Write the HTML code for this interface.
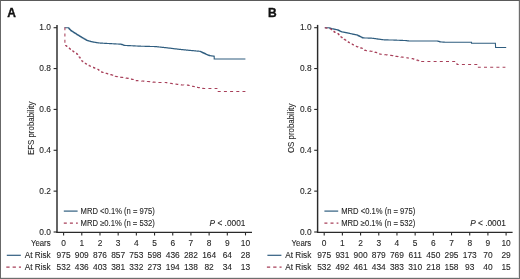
<!DOCTYPE html>
<html><head><meta charset="utf-8">
<style>
html,body{margin:0;padding:0;background:#fff;}
body{width:520px;height:279px;overflow:hidden;position:relative;}
.frame{position:absolute;left:0;top:0;width:520px;height:279px;box-sizing:border-box;border:1px solid #6e6e6e;border-top-color:#5a5a5a;border-left-color:#686868;}
svg{position:absolute;left:0;top:0;will-change:transform;filter:blur(0.3px);}
.t{font-family:"Liberation Sans",sans-serif;font-size:8.4px;fill:#262626;stroke:#262626;stroke-width:0.1;}
.lt{font-family:"Liberation Sans",sans-serif;font-size:12px;font-weight:bold;fill:#111;stroke:#111;stroke-width:0.35;}
.ax{stroke:#2a2a2a;stroke-width:1.25;}
.tk{stroke:#2a2a2a;stroke-width:1.1;}
</style></head><body>
<svg width="520" height="279" viewBox="0 0 520 279">
<text x="7.30" y="17.20" class="lt">A</text>
<line x1="57.00" y1="24.90" x2="57.00" y2="232.70" class="ax" style="stroke-width:1.45"/>
<line x1="56.40" y1="232.30" x2="252.00" y2="232.30" class="ax"/>
<line x1="53.60" y1="232.00" x2="57.00" y2="232.00" class="tk"/>
<text x="51.00" y="234.60" class="t" text-anchor="end">0.0</text>
<line x1="53.60" y1="191.14" x2="57.00" y2="191.14" class="tk"/>
<text x="51.00" y="193.74" class="t" text-anchor="end">0.2</text>
<line x1="53.60" y1="150.28" x2="57.00" y2="150.28" class="tk"/>
<text x="51.00" y="152.88" class="t" text-anchor="end">0.4</text>
<line x1="53.60" y1="109.42" x2="57.00" y2="109.42" class="tk"/>
<text x="51.00" y="112.02" class="t" text-anchor="end">0.6</text>
<line x1="53.60" y1="68.56" x2="57.00" y2="68.56" class="tk"/>
<text x="51.00" y="71.16" class="t" text-anchor="end">0.8</text>
<line x1="53.60" y1="27.70" x2="57.00" y2="27.70" class="tk"/>
<text x="51.00" y="30.30" class="t" text-anchor="end">1.0</text>
<line x1="63.60" y1="232.00" x2="63.60" y2="235.40" class="tk"/>
<text x="63.60" y="245.70" class="t" text-anchor="middle">0</text>
<text x="63.60" y="257.60" class="t" text-anchor="middle">975</text>
<text x="63.60" y="269.50" class="t" text-anchor="middle">532</text>
<line x1="81.79" y1="232.00" x2="81.79" y2="235.40" class="tk"/>
<text x="81.79" y="245.70" class="t" text-anchor="middle">1</text>
<text x="81.79" y="257.60" class="t" text-anchor="middle">909</text>
<text x="81.79" y="269.50" class="t" text-anchor="middle">436</text>
<line x1="99.98" y1="232.00" x2="99.98" y2="235.40" class="tk"/>
<text x="99.98" y="245.70" class="t" text-anchor="middle">2</text>
<text x="99.98" y="257.60" class="t" text-anchor="middle">876</text>
<text x="99.98" y="269.50" class="t" text-anchor="middle">403</text>
<line x1="118.17" y1="232.00" x2="118.17" y2="235.40" class="tk"/>
<text x="118.17" y="245.70" class="t" text-anchor="middle">3</text>
<text x="118.17" y="257.60" class="t" text-anchor="middle">857</text>
<text x="118.17" y="269.50" class="t" text-anchor="middle">381</text>
<line x1="136.36" y1="232.00" x2="136.36" y2="235.40" class="tk"/>
<text x="136.36" y="245.70" class="t" text-anchor="middle">4</text>
<text x="136.36" y="257.60" class="t" text-anchor="middle">753</text>
<text x="136.36" y="269.50" class="t" text-anchor="middle">332</text>
<line x1="154.55" y1="232.00" x2="154.55" y2="235.40" class="tk"/>
<text x="154.55" y="245.70" class="t" text-anchor="middle">5</text>
<text x="154.55" y="257.60" class="t" text-anchor="middle">598</text>
<text x="154.55" y="269.50" class="t" text-anchor="middle">273</text>
<line x1="172.74" y1="232.00" x2="172.74" y2="235.40" class="tk"/>
<text x="172.74" y="245.70" class="t" text-anchor="middle">6</text>
<text x="172.74" y="257.60" class="t" text-anchor="middle">436</text>
<text x="172.74" y="269.50" class="t" text-anchor="middle">194</text>
<line x1="190.93" y1="232.00" x2="190.93" y2="235.40" class="tk"/>
<text x="190.93" y="245.70" class="t" text-anchor="middle">7</text>
<text x="190.93" y="257.60" class="t" text-anchor="middle">282</text>
<text x="190.93" y="269.50" class="t" text-anchor="middle">138</text>
<line x1="209.12" y1="232.00" x2="209.12" y2="235.40" class="tk"/>
<text x="209.12" y="245.70" class="t" text-anchor="middle">8</text>
<text x="209.12" y="257.60" class="t" text-anchor="middle">164</text>
<text x="209.12" y="269.50" class="t" text-anchor="middle">82</text>
<line x1="227.31" y1="232.00" x2="227.31" y2="235.40" class="tk"/>
<text x="227.31" y="245.70" class="t" text-anchor="middle">9</text>
<text x="227.31" y="257.60" class="t" text-anchor="middle">64</text>
<text x="227.31" y="269.50" class="t" text-anchor="middle">34</text>
<line x1="245.50" y1="232.00" x2="245.50" y2="235.40" class="tk"/>
<text x="245.50" y="245.70" class="t" text-anchor="middle">10</text>
<text x="245.50" y="257.60" class="t" text-anchor="middle">28</text>
<text x="245.50" y="269.50" class="t" text-anchor="middle">13</text>
<text x="50.60" y="245.70" class="t" text-anchor="end" textLength="19.6" lengthAdjust="spacingAndGlyphs">Years</text>
<text x="50.70" y="257.60" class="t" text-anchor="end" textLength="26.0" lengthAdjust="spacingAndGlyphs">At Risk</text>
<text x="50.70" y="269.50" class="t" text-anchor="end" textLength="26.0" lengthAdjust="spacingAndGlyphs">At Risk</text>
<line x1="6.80" y1="255.3" x2="20.80" y2="255.3" stroke="#2f5d7f" stroke-width="1.2"/>
<line x1="6.30" y1="267.2" x2="21.00" y2="267.2" stroke="#a8405a" stroke-width="1.2" stroke-dasharray="3.3 3.0"/>
<text transform="translate(33.50,128.3) rotate(-90)" class="t" style="font-size:9px" text-anchor="middle" textLength="53.6" lengthAdjust="spacingAndGlyphs">EFS probability</text>
<line x1="63.80" y1="211.1" x2="77.60" y2="211.1" stroke="#2f5d7f" stroke-width="1.2"/>
<line x1="63.80" y1="223.2" x2="77.80" y2="223.2" stroke="#a8405a" stroke-width="1.2" stroke-dasharray="3.0 3.1"/>
<text x="80.60" y="214.00" class="t" textLength="74.2" lengthAdjust="spacingAndGlyphs">MRD &lt;0.1% (n = 975)</text>
<text x="80.60" y="226.20" class="t" textLength="74.2" lengthAdjust="spacingAndGlyphs">MRD &#8805;0.1% (n = 532)</text>
<text x="209.60" y="225.8" class="t" textLength="35.8" lengthAdjust="spacingAndGlyphs"><tspan font-style="italic">P</tspan> &lt; .0001</text>
<path d="M64.50,27.70 L68.10,27.70 L68.64,27.70 L68.64,28.28 L69.18,28.28 L69.18,28.86 L69.72,28.86 L69.72,29.44 L70.26,29.44 L70.26,30.02 L70.80,30.02 L70.80,30.60 L71.42,30.60 L71.42,31.00 L72.05,31.00 L72.05,31.40 L72.67,31.40 L72.67,31.80 L73.30,31.80 L73.30,32.20 L73.92,32.20 L73.92,32.60 L74.55,32.60 L74.55,33.00 L75.17,33.00 L75.17,33.40 L75.80,33.40 L75.80,33.80 L76.42,33.80 L76.42,34.20 L77.05,34.20 L77.05,34.60 L77.67,34.60 L77.67,35.00 L78.30,35.00 L78.30,35.40 L78.91,35.40 L78.91,35.76 L79.53,35.76 L79.53,36.13 L80.14,36.13 L80.14,36.49 L80.76,36.49 L80.76,36.86 L81.37,36.86 L81.37,37.22 L81.99,37.22 L81.99,37.59 L82.60,37.59 L82.60,37.95 L83.21,37.95 L83.21,38.31 L83.83,38.31 L83.83,38.68 L84.44,38.68 L84.44,39.04 L85.06,39.04 L85.06,39.41 L85.67,39.41 L85.67,39.77 L86.29,39.77 L86.29,40.14 L86.90,40.14 L86.90,40.50 L87.50,40.50 L87.50,40.66 L88.10,40.66 L88.10,40.81 L88.70,40.81 L88.70,40.97 L89.30,40.97 L89.30,41.12 L89.90,41.12 L89.90,41.28 L90.50,41.28 L90.50,41.43 L91.10,41.43 L91.10,41.59 L91.70,41.59 L91.70,41.74 L92.30,41.74 L92.30,41.90 L92.88,41.90 L92.88,42.00 L93.46,42.00 L93.46,42.10 L94.05,42.10 L94.05,42.20 L94.63,42.20 L94.63,42.30 L95.21,42.30 L95.21,42.40 L95.79,42.40 L95.79,42.50 L96.37,42.50 L96.37,42.60 L96.95,42.60 L96.95,42.70 L97.54,42.70 L97.54,42.80 L98.12,42.80 L98.12,42.90 L98.70,42.90 L98.70,43.00 L99.31,43.00 L99.31,43.03 L99.92,43.03 L99.92,43.07 L100.53,43.07 L100.53,43.10 L101.14,43.10 L101.14,43.13 L101.75,43.13 L101.75,43.17 L102.36,43.17 L102.36,43.20 L102.97,43.20 L102.97,43.23 L103.58,43.23 L103.58,43.27 L104.19,43.27 L104.19,43.30 L104.80,43.30 L104.80,43.33 L105.40,43.33 L105.40,43.37 L106.01,43.37 L106.01,43.40 L106.62,43.40 L106.62,43.43 L107.23,43.43 L107.23,43.47 L107.84,43.47 L107.84,43.50 L108.45,43.50 L108.45,43.53 L109.06,43.53 L109.06,43.57 L109.67,43.57 L109.67,43.60 L110.28,43.60 L110.28,43.63 L110.89,43.63 L110.89,43.67 L111.50,43.67 L111.50,43.70 L112.12,43.70 L112.12,43.73 L112.74,43.73 L112.74,43.77 L113.36,43.77 L113.36,43.80 L113.98,43.80 L113.98,43.83 L114.60,43.83 L114.60,43.87 L115.22,43.87 L115.22,43.90 L115.84,43.90 L115.84,43.93 L116.46,43.93 L116.46,43.97 L117.08,43.97 L117.08,44.00 L117.70,44.00 L117.70,44.03 L118.32,44.03 L118.32,44.07 L118.94,44.07 L118.94,44.10 L119.56,44.10 L119.56,44.13 L120.18,44.13 L120.18,44.17 L120.80,44.17 L120.80,44.20 L121.37,44.20 L121.37,44.40 L121.93,44.40 L121.93,44.60 L122.50,44.60 L122.50,44.80 L123.07,44.80 L123.07,45.00 L123.63,45.00 L123.63,45.20 L124.20,45.20 L124.20,45.40 L124.80,45.40 L124.80,45.43 L125.40,45.43 L125.40,45.46 L126.00,45.46 L126.00,45.49 L126.60,45.49 L126.60,45.52 L127.20,45.52 L127.20,45.55 L127.80,45.55 L127.80,45.58 L128.40,45.58 L128.40,45.61 L129.00,45.61 L129.00,45.64 L129.60,45.64 L129.60,45.67 L130.20,45.67 L130.20,45.70 L130.80,45.70 L130.80,45.73 L131.40,45.73 L131.40,45.76 L132.00,45.76 L132.00,45.79 L132.60,45.79 L132.60,45.81 L133.20,45.81 L133.20,45.84 L133.80,45.84 L133.80,45.87 L134.40,45.87 L134.40,45.90 L135.00,45.90 L135.00,45.93 L135.60,45.93 L135.60,45.96 L136.20,45.96 L136.20,45.99 L136.80,45.99 L136.80,46.02 L137.40,46.02 L137.40,46.05 L138.00,46.05 L138.00,46.08 L138.60,46.08 L138.60,46.11 L139.20,46.11 L139.20,46.14 L139.80,46.14 L139.80,46.17 L140.40,46.17 L140.40,46.20 L141.00,46.20 L141.00,46.22 L141.60,46.22 L141.60,46.23 L142.20,46.23 L142.20,46.25 L142.80,46.25 L142.80,46.26 L143.40,46.26 L143.40,46.28 L144.00,46.28 L144.00,46.30 L144.60,46.30 L144.60,46.31 L145.20,46.31 L145.20,46.33 L145.80,46.33 L145.80,46.34 L146.40,46.34 L146.40,46.36 L147.00,46.36 L147.00,46.38 L147.60,46.38 L147.60,46.39 L148.20,46.39 L148.20,46.41 L148.80,46.41 L148.80,46.42 L149.40,46.42 L149.40,46.44 L150.00,46.44 L150.00,46.46 L150.60,46.46 L150.60,46.47 L151.20,46.47 L151.20,46.49 L151.80,46.49 L151.80,46.50 L152.40,46.50 L152.40,46.52 L153.00,46.52 L153.00,46.54 L153.60,46.54 L153.60,46.55 L154.20,46.55 L154.20,46.57 L154.80,46.57 L154.80,46.58 L155.40,46.58 L155.40,46.60 L156.02,46.60 L156.02,46.67 L156.63,46.67 L156.63,46.73 L157.25,46.73 L157.25,46.80 L157.87,46.80 L157.87,46.87 L158.48,46.87 L158.48,46.93 L159.10,46.93 L159.10,47.00 L159.72,47.00 L159.72,47.07 L160.33,47.07 L160.33,47.13 L160.95,47.13 L160.95,47.20 L161.57,47.20 L161.57,47.27 L162.18,47.27 L162.18,47.33 L162.80,47.33 L162.80,47.40 L163.42,47.40 L163.42,47.47 L164.03,47.47 L164.03,47.53 L164.65,47.53 L164.65,47.60 L165.27,47.60 L165.27,47.67 L165.88,47.67 L165.88,47.73 L166.50,47.73 L166.50,47.80 L167.11,47.80 L167.11,47.87 L167.71,47.87 L167.71,47.95 L168.32,47.95 L168.32,48.02 L168.92,48.02 L168.92,48.09 L169.53,48.09 L169.53,48.17 L170.13,48.17 L170.13,48.24 L170.74,48.24 L170.74,48.32 L171.34,48.32 L171.34,48.39 L171.95,48.39 L171.95,48.46 L172.55,48.46 L172.55,48.54 L173.16,48.54 L173.16,48.61 L173.76,48.61 L173.76,48.68 L174.37,48.68 L174.37,48.76 L174.97,48.76 L174.97,48.83 L175.58,48.83 L175.58,48.91 L176.18,48.91 L176.18,48.98 L176.79,48.98 L176.79,49.05 L177.39,49.05 L177.39,49.13 L178.00,49.13 L178.00,49.20 L178.61,49.20 L178.61,49.26 L179.22,49.26 L179.22,49.33 L179.83,49.33 L179.83,49.39 L180.44,49.39 L180.44,49.45 L181.05,49.45 L181.05,49.52 L181.66,49.52 L181.66,49.58 L182.27,49.58 L182.27,49.64 L182.88,49.64 L182.88,49.71 L183.49,49.71 L183.49,49.77 L184.11,49.77 L184.11,49.83 L184.72,49.83 L184.72,49.89 L185.33,49.89 L185.33,49.96 L185.94,49.96 L185.94,50.02 L186.55,50.02 L186.55,50.08 L187.16,50.08 L187.16,50.15 L187.77,50.15 L187.77,50.21 L188.38,50.21 L188.38,50.27 L188.99,50.27 L188.99,50.34 L189.60,50.34 L189.60,50.40 L190.19,50.40 L190.19,50.45 L190.78,50.45 L190.78,50.51 L191.36,50.51 L191.36,50.56 L191.95,50.56 L191.95,50.61 L192.54,50.61 L192.54,50.66 L193.13,50.66 L193.13,50.72 L193.72,50.72 L193.72,50.77 L194.31,50.77 L194.31,50.82 L194.89,50.82 L194.89,50.88 L195.48,50.88 L195.48,50.93 L196.07,50.93 L196.07,50.98 L196.66,50.98 L196.66,51.04 L197.25,51.04 L197.25,51.09 L197.84,51.09 L197.84,51.14 L198.42,51.14 L198.42,51.19 L199.01,51.19 L199.01,51.25 L199.60,51.25 L199.60,51.30 L200.19,51.30 L200.19,51.56 L200.77,51.56 L200.77,51.81 L201.36,51.81 L201.36,52.07 L201.94,52.07 L201.94,52.33 L202.53,52.33 L202.53,52.59 L203.11,52.59 L203.11,52.84 L203.70,52.84 L203.70,53.10 L204.26,53.10 L204.26,53.38 L204.82,53.38 L204.82,53.66 L205.38,53.66 L205.38,53.94 L205.94,53.94 L205.94,54.22 L206.50,54.22 L206.50,54.50 L207.08,54.50 L207.08,54.72 L207.66,54.72 L207.66,54.94 L208.24,54.94 L208.24,55.16 L208.82,55.16 L208.82,55.38 L209.40,55.38 L209.40,55.60 L210.03,55.60 L210.03,55.69 L210.66,55.69 L210.66,55.77 L211.29,55.77 L211.29,55.86 L211.91,55.86 L211.91,55.94 L212.54,55.94 L212.54,56.03 L213.17,56.03 L213.17,56.11 L213.80,56.11 L213.80,56.20 L214.20,56.20 L214.20,59.00 L245.40,59.00" fill="none" stroke="#2f5d7f" stroke-width="1.1"/>
<path d="M64.50,27.70 L64.90,27.70 L64.90,45.00 L65.53,45.00 L65.53,45.50 L66.16,45.50 L66.16,46.00 L66.79,46.00 L66.79,46.50 L67.41,46.50 L67.41,47.00 L68.04,47.00 L68.04,47.50 L68.67,47.50 L68.67,48.00 L69.30,48.00 L69.30,48.50 L69.88,48.50 L69.88,48.97 L70.47,48.97 L70.47,49.43 L71.05,49.43 L71.05,49.90 L71.63,49.90 L71.63,50.37 L72.22,50.37 L72.22,50.83 L72.80,50.83 L72.80,51.30 L73.42,51.30 L73.42,51.68 L74.03,51.68 L74.03,52.07 L74.65,52.07 L74.65,52.45 L75.27,52.45 L75.27,52.83 L75.88,52.83 L75.88,53.22 L76.50,53.22 L76.50,53.60 L77.15,53.60 L77.15,54.42 L77.80,54.42 L77.80,55.25 L78.45,55.25 L78.45,56.08 L79.10,56.08 L79.10,56.90 L79.72,56.90 L79.72,57.85 L80.35,57.85 L80.35,58.80 L80.97,58.80 L80.97,59.75 L81.60,59.75 L81.60,60.70 L82.22,60.70 L82.22,61.20 L82.84,61.20 L82.84,61.70 L83.46,61.70 L83.46,62.20 L84.08,62.20 L84.08,62.70 L84.70,62.70 L84.70,63.20 L85.33,63.20 L85.33,63.56 L85.96,63.56 L85.96,63.91 L86.59,63.91 L86.59,64.27 L87.21,64.27 L87.21,64.63 L87.84,64.63 L87.84,64.99 L88.47,64.99 L88.47,65.34 L89.10,65.34 L89.10,65.70 L89.73,65.70 L89.73,65.97 L90.36,65.97 L90.36,66.24 L90.99,66.24 L90.99,66.51 L91.61,66.51 L91.61,66.79 L92.24,66.79 L92.24,67.06 L92.87,67.06 L92.87,67.33 L93.50,67.33 L93.50,67.60 L94.13,67.60 L94.13,67.87 L94.76,67.87 L94.76,68.14 L95.39,68.14 L95.39,68.41 L96.01,68.41 L96.01,68.69 L96.64,68.69 L96.64,68.96 L97.27,68.96 L97.27,69.23 L97.90,69.23 L97.90,69.50 L98.52,69.50 L98.52,69.93 L99.13,69.93 L99.13,70.37 L99.75,70.37 L99.75,70.80 L100.37,70.80 L100.37,71.23 L100.98,71.23 L100.98,71.67 L101.60,71.67 L101.60,72.10 L102.17,72.10 L102.17,72.26 L102.74,72.26 L102.74,72.42 L103.31,72.42 L103.31,72.58 L103.88,72.58 L103.88,72.74 L104.45,72.74 L104.45,72.90 L105.02,72.90 L105.02,73.06 L105.59,73.06 L105.59,73.22 L106.16,73.22 L106.16,73.38 L106.73,73.38 L106.73,73.54 L107.30,73.54 L107.30,73.70 L107.86,73.70 L107.86,73.86 L108.41,73.86 L108.41,74.01 L108.97,74.01 L108.97,74.17 L109.53,74.17 L109.53,74.33 L110.09,74.33 L110.09,74.49 L110.64,74.49 L110.64,74.64 L111.20,74.64 L111.20,74.80 L111.78,74.80 L111.78,75.01 L112.35,75.01 L112.35,75.22 L112.92,75.22 L112.92,75.44 L113.50,75.44 L113.50,75.65 L114.08,75.65 L114.08,75.86 L114.65,75.86 L114.65,76.08 L115.22,76.08 L115.22,76.29 L115.80,76.29 L115.80,76.50 L116.40,76.50 L116.40,76.59 L117.00,76.59 L117.00,76.68 L117.60,76.68 L117.60,76.77 L118.20,76.77 L118.20,76.86 L118.80,76.86 L118.80,76.94 L119.40,76.94 L119.40,77.03 L120.00,77.03 L120.00,77.12 L120.60,77.12 L120.60,77.21 L121.20,77.21 L121.20,77.30 L121.79,77.30 L121.79,77.39 L122.38,77.39 L122.38,77.48 L122.97,77.48 L122.97,77.57 L123.56,77.57 L123.56,77.66 L124.14,77.66 L124.14,77.74 L124.73,77.74 L124.73,77.83 L125.32,77.83 L125.32,77.92 L125.91,77.92 L125.91,78.01 L126.50,78.01 L126.50,78.10 L127.12,78.10 L127.12,78.24 L127.75,78.24 L127.75,78.38 L128.38,78.38 L128.38,78.51 L129.00,78.51 L129.00,78.65 L129.62,78.65 L129.62,78.79 L130.25,78.79 L130.25,78.92 L130.88,78.92 L130.88,79.06 L131.50,79.06 L131.50,79.20 L132.10,79.20 L132.10,79.38 L132.70,79.38 L132.70,79.55 L133.30,79.55 L133.30,79.72 L133.90,79.72 L133.90,79.90 L134.50,79.90 L134.50,80.08 L135.10,80.08 L135.10,80.25 L135.70,80.25 L135.70,80.42 L136.30,80.42 L136.30,80.60 L136.88,80.60 L136.88,80.64 L137.46,80.64 L137.46,80.68 L138.04,80.68 L138.04,80.72 L138.62,80.72 L138.62,80.76 L139.20,80.76 L139.20,80.80 L139.78,80.80 L139.78,80.84 L140.36,80.84 L140.36,80.88 L140.94,80.88 L140.94,80.92 L141.52,80.92 L141.52,80.96 L142.10,80.96 L142.10,81.00 L142.68,81.00 L142.68,81.05 L143.26,81.05 L143.26,81.10 L143.84,81.10 L143.84,81.15 L144.42,81.15 L144.42,81.20 L145.00,81.20 L145.00,81.25 L145.58,81.25 L145.58,81.30 L146.16,81.30 L146.16,81.35 L146.74,81.35 L146.74,81.40 L147.32,81.40 L147.32,81.45 L147.90,81.45 L147.90,81.50 L148.54,81.50 L148.54,81.58 L149.18,81.58 L149.18,81.65 L149.81,81.65 L149.81,81.72 L150.45,81.72 L150.45,81.80 L151.09,81.80 L151.09,81.88 L151.72,81.88 L151.72,81.95 L152.36,81.95 L152.36,82.02 L153.00,82.02 L153.00,82.10 L153.58,82.10 L153.58,82.14 L154.16,82.14 L154.16,82.18 L154.74,82.18 L154.74,82.22 L155.32,82.22 L155.32,82.26 L155.90,82.26 L155.90,82.30 L156.48,82.30 L156.48,82.34 L157.06,82.34 L157.06,82.38 L157.64,82.38 L157.64,82.42 L158.22,82.42 L158.22,82.46 L158.80,82.46 L158.80,82.50 L165.20,82.50 L165.78,82.50 L165.78,82.59 L166.36,82.59 L166.36,82.68 L166.93,82.68 L166.93,82.77 L167.51,82.77 L167.51,82.86 L168.09,82.86 L168.09,82.94 L168.67,82.94 L168.67,83.03 L169.24,83.03 L169.24,83.12 L169.82,83.12 L169.82,83.21 L170.40,83.21 L170.40,83.30 L171.03,83.30 L171.03,83.40 L171.67,83.40 L171.67,83.50 L172.30,83.50 L172.30,83.60 L172.93,83.60 L172.93,83.70 L173.57,83.70 L173.57,83.80 L174.20,83.80 L174.20,83.90 L174.83,83.90 L174.83,84.00 L175.47,84.00 L175.47,84.10 L176.10,84.10 L176.10,84.20 L176.68,84.20 L176.68,84.28 L177.26,84.28 L177.26,84.36 L177.84,84.36 L177.84,84.44 L178.42,84.44 L178.42,84.52 L179.00,84.52 L179.00,84.60 L179.58,84.60 L179.58,84.68 L180.16,84.68 L180.16,84.76 L180.74,84.76 L180.74,84.84 L181.32,84.84 L181.32,84.92 L181.90,84.92 L181.90,85.00 L182.52,85.00 L182.52,85.01 L183.14,85.01 L183.14,85.02 L183.77,85.02 L183.77,85.03 L184.39,85.03 L184.39,85.04 L185.01,85.04 L185.01,85.06 L185.63,85.06 L185.63,85.07 L186.26,85.07 L186.26,85.08 L186.88,85.08 L186.88,85.09 L187.50,85.09 L187.50,85.10 L188.12,85.10 L188.12,85.25 L188.75,85.25 L188.75,85.40 L189.38,85.40 L189.38,85.55 L190.00,85.55 L190.00,85.70 L190.62,85.70 L190.62,85.85 L191.25,85.85 L191.25,86.00 L191.88,86.00 L191.88,86.15 L192.50,86.15 L192.50,86.30 L193.12,86.30 L193.12,86.44 L193.75,86.44 L193.75,86.58 L194.38,86.58 L194.38,86.71 L195.00,86.71 L195.00,86.85 L195.62,86.85 L195.62,86.99 L196.25,86.99 L196.25,87.12 L196.88,87.12 L196.88,87.26 L197.50,87.26 L197.50,87.40 L198.12,87.40 L198.12,87.51 L198.74,87.51 L198.74,87.62 L199.37,87.62 L199.37,87.73 L199.99,87.73 L199.99,87.84 L200.61,87.84 L200.61,87.96 L201.23,87.96 L201.23,88.07 L201.86,88.07 L201.86,88.18 L202.48,88.18 L202.48,88.29 L203.10,88.29 L203.10,88.40 L216.90,88.40 L216.90,91.50 L245.40,91.50" fill="none" stroke="#a8405a" stroke-width="1.05" stroke-dasharray="3.0 3.2"/>
<text x="267.90" y="17.20" class="lt">B</text>
<line x1="317.60" y1="24.90" x2="317.60" y2="232.70" class="ax" style="stroke-width:1.45"/>
<line x1="317.00" y1="232.30" x2="512.60" y2="232.30" class="ax"/>
<line x1="314.20" y1="232.00" x2="317.60" y2="232.00" class="tk"/>
<text x="311.60" y="234.60" class="t" text-anchor="end">0.0</text>
<line x1="314.20" y1="191.14" x2="317.60" y2="191.14" class="tk"/>
<text x="311.60" y="193.74" class="t" text-anchor="end">0.2</text>
<line x1="314.20" y1="150.28" x2="317.60" y2="150.28" class="tk"/>
<text x="311.60" y="152.88" class="t" text-anchor="end">0.4</text>
<line x1="314.20" y1="109.42" x2="317.60" y2="109.42" class="tk"/>
<text x="311.60" y="112.02" class="t" text-anchor="end">0.6</text>
<line x1="314.20" y1="68.56" x2="317.60" y2="68.56" class="tk"/>
<text x="311.60" y="71.16" class="t" text-anchor="end">0.8</text>
<line x1="314.20" y1="27.70" x2="317.60" y2="27.70" class="tk"/>
<text x="311.60" y="30.30" class="t" text-anchor="end">1.0</text>
<line x1="324.20" y1="232.00" x2="324.20" y2="235.40" class="tk"/>
<text x="324.20" y="245.70" class="t" text-anchor="middle">0</text>
<text x="324.20" y="257.60" class="t" text-anchor="middle">975</text>
<text x="324.20" y="269.50" class="t" text-anchor="middle">532</text>
<line x1="342.39" y1="232.00" x2="342.39" y2="235.40" class="tk"/>
<text x="342.39" y="245.70" class="t" text-anchor="middle">1</text>
<text x="342.39" y="257.60" class="t" text-anchor="middle">931</text>
<text x="342.39" y="269.50" class="t" text-anchor="middle">492</text>
<line x1="360.58" y1="232.00" x2="360.58" y2="235.40" class="tk"/>
<text x="360.58" y="245.70" class="t" text-anchor="middle">2</text>
<text x="360.58" y="257.60" class="t" text-anchor="middle">900</text>
<text x="360.58" y="269.50" class="t" text-anchor="middle">461</text>
<line x1="378.77" y1="232.00" x2="378.77" y2="235.40" class="tk"/>
<text x="378.77" y="245.70" class="t" text-anchor="middle">3</text>
<text x="378.77" y="257.60" class="t" text-anchor="middle">879</text>
<text x="378.77" y="269.50" class="t" text-anchor="middle">434</text>
<line x1="396.96" y1="232.00" x2="396.96" y2="235.40" class="tk"/>
<text x="396.96" y="245.70" class="t" text-anchor="middle">4</text>
<text x="396.96" y="257.60" class="t" text-anchor="middle">769</text>
<text x="396.96" y="269.50" class="t" text-anchor="middle">383</text>
<line x1="415.15" y1="232.00" x2="415.15" y2="235.40" class="tk"/>
<text x="415.15" y="245.70" class="t" text-anchor="middle">5</text>
<text x="415.15" y="257.60" class="t" text-anchor="middle">611</text>
<text x="415.15" y="269.50" class="t" text-anchor="middle">310</text>
<line x1="433.34" y1="232.00" x2="433.34" y2="235.40" class="tk"/>
<text x="433.34" y="245.70" class="t" text-anchor="middle">6</text>
<text x="433.34" y="257.60" class="t" text-anchor="middle">450</text>
<text x="433.34" y="269.50" class="t" text-anchor="middle">218</text>
<line x1="451.53" y1="232.00" x2="451.53" y2="235.40" class="tk"/>
<text x="451.53" y="245.70" class="t" text-anchor="middle">7</text>
<text x="451.53" y="257.60" class="t" text-anchor="middle">295</text>
<text x="451.53" y="269.50" class="t" text-anchor="middle">158</text>
<line x1="469.72" y1="232.00" x2="469.72" y2="235.40" class="tk"/>
<text x="469.72" y="245.70" class="t" text-anchor="middle">8</text>
<text x="469.72" y="257.60" class="t" text-anchor="middle">173</text>
<text x="469.72" y="269.50" class="t" text-anchor="middle">93</text>
<line x1="487.91" y1="232.00" x2="487.91" y2="235.40" class="tk"/>
<text x="487.91" y="245.70" class="t" text-anchor="middle">9</text>
<text x="487.91" y="257.60" class="t" text-anchor="middle">70</text>
<text x="487.91" y="269.50" class="t" text-anchor="middle">40</text>
<line x1="506.10" y1="232.00" x2="506.10" y2="235.40" class="tk"/>
<text x="506.10" y="245.70" class="t" text-anchor="middle">10</text>
<text x="506.10" y="257.60" class="t" text-anchor="middle">29</text>
<text x="506.10" y="269.50" class="t" text-anchor="middle">15</text>
<text x="311.20" y="245.70" class="t" text-anchor="end" textLength="19.6" lengthAdjust="spacingAndGlyphs">Years</text>
<text x="311.30" y="257.60" class="t" text-anchor="end" textLength="26.0" lengthAdjust="spacingAndGlyphs">At Risk</text>
<text x="311.30" y="269.50" class="t" text-anchor="end" textLength="26.0" lengthAdjust="spacingAndGlyphs">At Risk</text>
<line x1="267.40" y1="255.3" x2="281.40" y2="255.3" stroke="#2f5d7f" stroke-width="1.2"/>
<line x1="266.90" y1="267.2" x2="281.60" y2="267.2" stroke="#a8405a" stroke-width="1.2" stroke-dasharray="3.3 3.0"/>
<text transform="translate(294.10,128.3) rotate(-90)" class="t" style="font-size:9px" text-anchor="middle" textLength="49.6" lengthAdjust="spacingAndGlyphs">OS probability</text>
<line x1="324.40" y1="211.1" x2="338.20" y2="211.1" stroke="#2f5d7f" stroke-width="1.2"/>
<line x1="324.40" y1="223.2" x2="338.40" y2="223.2" stroke="#a8405a" stroke-width="1.2" stroke-dasharray="3.0 3.1"/>
<text x="341.20" y="214.00" class="t" textLength="74.2" lengthAdjust="spacingAndGlyphs">MRD &lt;0.1% (n = 975)</text>
<text x="341.20" y="226.20" class="t" textLength="74.2" lengthAdjust="spacingAndGlyphs">MRD &#8805;0.1% (n = 532)</text>
<text x="470.20" y="225.8" class="t" textLength="35.8" lengthAdjust="spacingAndGlyphs"><tspan font-style="italic">P</tspan> &lt; .0001</text>
<path d="M324.80,27.70 L325.45,27.70 L325.45,27.72 L326.10,27.72 L326.10,27.73 L326.75,27.73 L326.75,27.75 L327.40,27.75 L327.40,27.77 L328.05,27.77 L328.05,27.78 L328.70,27.78 L328.70,27.80 L329.26,27.80 L329.26,27.98 L329.82,27.98 L329.82,28.16 L330.38,28.16 L330.38,28.34 L330.94,28.34 L330.94,28.52 L331.50,28.52 L331.50,28.70 L332.08,28.70 L332.08,28.81 L332.66,28.81 L332.66,28.92 L333.24,28.92 L333.24,29.03 L333.82,29.03 L333.82,29.14 L334.40,29.14 L334.40,29.25 L334.98,29.25 L334.98,29.36 L335.56,29.36 L335.56,29.47 L336.14,29.47 L336.14,29.58 L336.72,29.58 L336.72,29.69 L337.30,29.69 L337.30,29.80 L337.87,29.80 L337.87,30.09 L338.44,30.09 L338.44,30.37 L339.01,30.37 L339.01,30.66 L339.59,30.66 L339.59,30.94 L340.16,30.94 L340.16,31.23 L340.73,31.23 L340.73,31.51 L341.30,31.51 L341.30,31.80 L341.93,31.80 L341.93,31.93 L342.55,31.93 L342.55,32.05 L343.18,32.05 L343.18,32.17 L343.80,32.17 L343.80,32.30 L344.43,32.30 L344.43,32.42 L345.05,32.42 L345.05,32.55 L345.68,32.55 L345.68,32.67 L346.30,32.67 L346.30,32.80 L346.93,32.80 L346.93,32.92 L347.55,32.92 L347.55,33.05 L348.18,33.05 L348.18,33.17 L348.80,33.17 L348.80,33.30 L349.42,33.30 L349.42,33.43 L350.05,33.43 L350.05,33.56 L350.67,33.56 L350.67,33.69 L351.29,33.69 L351.29,33.82 L351.92,33.82 L351.92,33.95 L352.54,33.95 L352.54,34.08 L353.16,34.08 L353.16,34.22 L353.78,34.22 L353.78,34.35 L354.41,34.35 L354.41,34.48 L355.03,34.48 L355.03,34.61 L355.65,34.61 L355.65,34.74 L356.28,34.74 L356.28,34.87 L356.90,34.87 L356.90,35.00 L357.48,35.00 L357.48,35.29 L358.06,35.29 L358.06,35.58 L358.64,35.58 L358.64,35.87 L359.22,35.87 L359.22,36.16 L359.80,36.16 L359.80,36.45 L360.38,36.45 L360.38,36.74 L360.96,36.74 L360.96,37.03 L361.54,37.03 L361.54,37.32 L362.12,37.32 L362.12,37.61 L362.70,37.61 L362.70,37.90 L363.31,37.90 L363.31,37.92 L363.93,37.92 L363.93,37.94 L364.54,37.94 L364.54,37.96 L365.15,37.96 L365.15,37.98 L365.77,37.98 L365.77,38.00 L366.38,38.00 L366.38,38.02 L366.99,38.02 L366.99,38.04 L367.61,38.04 L367.61,38.06 L368.22,38.06 L368.22,38.08 L368.83,38.08 L368.83,38.10 L369.45,38.10 L369.45,38.12 L370.06,38.12 L370.06,38.14 L370.67,38.14 L370.67,38.16 L371.29,38.16 L371.29,38.18 L371.90,38.18 L371.90,38.20 L372.50,38.20 L372.50,38.29 L373.10,38.29 L373.10,38.38 L373.70,38.38 L373.70,38.47 L374.30,38.47 L374.30,38.56 L374.90,38.56 L374.90,38.64 L375.50,38.64 L375.50,38.73 L376.10,38.73 L376.10,38.82 L376.70,38.82 L376.70,38.91 L377.30,38.91 L377.30,39.00 L377.88,39.00 L377.88,39.08 L378.46,39.08 L378.46,39.16 L379.04,39.16 L379.04,39.24 L379.62,39.24 L379.62,39.32 L380.20,39.32 L380.20,39.40 L380.78,39.40 L380.78,39.48 L381.36,39.48 L381.36,39.56 L381.94,39.56 L381.94,39.64 L382.52,39.64 L382.52,39.72 L383.10,39.72 L383.10,39.80 L383.71,39.80 L383.71,39.82 L384.31,39.82 L384.31,39.83 L384.92,39.83 L384.92,39.85 L385.52,39.85 L385.52,39.86 L386.13,39.86 L386.13,39.88 L386.73,39.88 L386.73,39.89 L387.34,39.89 L387.34,39.91 L387.94,39.91 L387.94,39.93 L388.55,39.93 L388.55,39.94 L389.15,39.94 L389.15,39.96 L389.76,39.96 L389.76,39.97 L390.36,39.97 L390.36,39.99 L390.97,39.99 L390.97,40.01 L391.57,40.01 L391.57,40.02 L392.18,40.02 L392.18,40.04 L392.78,40.04 L392.78,40.05 L393.39,40.05 L393.39,40.07 L393.99,40.07 L393.99,40.08 L394.60,40.08 L394.60,40.10 L395.21,40.10 L395.21,40.13 L395.81,40.13 L395.81,40.15 L396.42,40.15 L396.42,40.18 L397.02,40.18 L397.02,40.21 L397.63,40.21 L397.63,40.23 L398.23,40.23 L398.23,40.26 L398.84,40.26 L398.84,40.28 L399.44,40.28 L399.44,40.31 L400.05,40.31 L400.05,40.34 L400.65,40.34 L400.65,40.36 L401.26,40.36 L401.26,40.39 L401.86,40.39 L401.86,40.42 L402.47,40.42 L402.47,40.44 L403.07,40.44 L403.07,40.47 L403.68,40.47 L403.68,40.49 L404.28,40.49 L404.28,40.52 L404.89,40.52 L404.89,40.55 L405.49,40.55 L405.49,40.57 L406.10,40.57 L406.10,40.60 L406.68,40.60 L406.68,40.70 L407.25,40.70 L407.25,40.80 L407.82,40.80 L407.82,40.90 L408.40,40.90 L408.40,41.00 L437.30,41.00 L437.86,41.00 L437.86,41.18 L438.42,41.18 L438.42,41.36 L438.98,41.36 L438.98,41.54 L439.54,41.54 L439.54,41.72 L440.10,41.72 L440.10,41.90 L440.68,41.90 L440.68,41.94 L441.26,41.94 L441.26,41.98 L441.84,41.98 L441.84,42.02 L442.42,42.02 L442.42,42.06 L443.00,42.06 L443.00,42.10 L443.58,42.10 L443.58,42.14 L444.16,42.14 L444.16,42.18 L444.74,42.18 L444.74,42.22 L445.32,42.22 L445.32,42.26 L445.90,42.26 L445.90,42.30 L471.20,42.30 L471.50,42.30 L471.50,43.30 L495.40,43.30 L495.60,47.50 L506.20,47.50" fill="none" stroke="#2f5d7f" stroke-width="1.1"/>
<path d="M324.80,27.70 L325.42,27.70 L325.42,27.85 L326.04,27.85 L326.04,28.00 L326.66,28.00 L326.66,28.15 L327.28,28.15 L327.28,28.30 L327.90,28.30 L327.90,28.45 L328.52,28.45 L328.52,28.60 L329.14,28.60 L329.14,28.75 L329.76,28.75 L329.76,28.90 L330.38,28.90 L330.38,29.05 L331.00,29.05 L331.00,29.20 L331.57,29.20 L331.57,29.68 L332.13,29.68 L332.13,30.17 L332.70,30.17 L332.70,30.65 L333.27,30.65 L333.27,31.13 L333.83,31.13 L333.83,31.62 L334.40,31.62 L334.40,32.10 L334.98,32.10 L334.98,32.38 L335.57,32.38 L335.57,32.67 L336.15,32.67 L336.15,32.95 L336.73,32.95 L336.73,33.23 L337.32,33.23 L337.32,33.52 L337.90,33.52 L337.90,33.80 L338.47,33.80 L338.47,34.38 L339.03,34.38 L339.03,34.97 L339.60,34.97 L339.60,35.55 L340.17,35.55 L340.17,36.13 L340.73,36.13 L340.73,36.72 L341.30,36.72 L341.30,37.30 L341.88,37.30 L341.88,37.72 L342.47,37.72 L342.47,38.13 L343.05,38.13 L343.05,38.55 L343.63,38.55 L343.63,38.97 L344.22,38.97 L344.22,39.38 L344.80,39.38 L344.80,39.80 L345.37,39.80 L345.37,40.19 L345.94,40.19 L345.94,40.57 L346.51,40.57 L346.51,40.96 L347.09,40.96 L347.09,41.34 L347.66,41.34 L347.66,41.73 L348.23,41.73 L348.23,42.11 L348.80,42.11 L348.80,42.50 L349.39,42.50 L349.39,42.83 L349.97,42.83 L349.97,43.16 L350.56,43.16 L350.56,43.49 L351.14,43.49 L351.14,43.81 L351.73,43.81 L351.73,44.14 L352.31,44.14 L352.31,44.47 L352.90,44.47 L352.90,44.80 L353.47,44.80 L353.47,45.09 L354.04,45.09 L354.04,45.37 L354.61,45.37 L354.61,45.66 L355.19,45.66 L355.19,45.94 L355.76,45.94 L355.76,46.23 L356.33,46.23 L356.33,46.51 L356.90,46.51 L356.90,46.80 L357.50,46.80 L357.50,46.97 L358.10,46.97 L358.10,47.15 L358.70,47.15 L358.70,47.33 L359.30,47.33 L359.30,47.50 L359.90,47.50 L359.90,47.67 L360.50,47.67 L360.50,47.85 L361.10,47.85 L361.10,48.03 L361.70,48.03 L361.70,48.20 L362.28,48.20 L362.28,48.58 L362.87,48.58 L362.87,48.97 L363.45,48.97 L363.45,49.35 L364.03,49.35 L364.03,49.73 L364.62,49.73 L364.62,50.12 L365.20,50.12 L365.20,50.50 L365.77,50.50 L365.77,50.57 L366.35,50.57 L366.35,50.65 L366.92,50.65 L366.92,50.72 L367.49,50.72 L367.49,50.79 L368.06,50.79 L368.06,50.86 L368.64,50.86 L368.64,50.94 L369.21,50.94 L369.21,51.01 L369.78,51.01 L369.78,51.08 L370.35,51.08 L370.35,51.15 L370.93,51.15 L370.93,51.23 L371.50,51.23 L371.50,51.30 L372.07,51.30 L372.07,51.45 L372.65,51.45 L372.65,51.60 L373.23,51.60 L373.23,51.75 L373.80,51.75 L373.80,51.90 L374.38,51.90 L374.38,52.05 L374.95,52.05 L374.95,52.20 L375.53,52.20 L375.53,52.35 L376.10,52.35 L376.10,52.50 L376.69,52.50 L376.69,52.74 L377.27,52.74 L377.27,52.99 L377.86,52.99 L377.86,53.23 L378.44,53.23 L378.44,53.47 L379.03,53.47 L379.03,53.71 L379.61,53.71 L379.61,53.96 L380.20,53.96 L380.20,54.20 L380.78,54.20 L380.78,54.26 L381.36,54.26 L381.36,54.32 L381.94,54.32 L381.94,54.38 L382.52,54.38 L382.52,54.44 L383.10,54.44 L383.10,54.50 L383.68,54.50 L383.68,54.56 L384.26,54.56 L384.26,54.62 L384.84,54.62 L384.84,54.68 L385.42,54.68 L385.42,54.74 L386.00,54.74 L386.00,54.80 L386.57,54.80 L386.57,54.87 L387.13,54.87 L387.13,54.93 L387.70,54.93 L387.70,55.00 L388.27,55.00 L388.27,55.07 L388.83,55.07 L388.83,55.13 L389.40,55.13 L389.40,55.20 L389.97,55.20 L389.97,55.27 L390.53,55.27 L390.53,55.33 L391.10,55.33 L391.10,55.40 L391.68,55.40 L391.68,55.51 L392.26,55.51 L392.26,55.62 L392.84,55.62 L392.84,55.73 L393.42,55.73 L393.42,55.84 L394.00,55.84 L394.00,55.95 L394.58,55.95 L394.58,56.06 L395.16,56.06 L395.16,56.17 L395.74,56.17 L395.74,56.28 L396.32,56.28 L396.32,56.39 L396.90,56.39 L396.90,56.50 L397.48,56.50 L397.48,56.57 L398.06,56.57 L398.06,56.63 L398.63,56.63 L398.63,56.70 L399.21,56.70 L399.21,56.77 L399.79,56.77 L399.79,56.83 L400.37,56.83 L400.37,56.90 L400.94,56.90 L400.94,56.97 L401.52,56.97 L401.52,57.03 L402.10,57.03 L402.10,57.10 L402.68,57.10 L402.68,57.19 L403.26,57.19 L403.26,57.28 L403.83,57.28 L403.83,57.37 L404.41,57.37 L404.41,57.46 L404.99,57.46 L404.99,57.54 L405.57,57.54 L405.57,57.63 L406.14,57.63 L406.14,57.72 L406.72,57.72 L406.72,57.81 L407.30,57.81 L407.30,57.90 L407.90,57.90 L407.90,57.99 L408.50,57.99 L408.50,58.08 L409.10,58.08 L409.10,58.17 L409.70,58.17 L409.70,58.26 L410.30,58.26 L410.30,58.34 L410.90,58.34 L410.90,58.43 L411.50,58.43 L411.50,58.52 L412.10,58.52 L412.10,58.61 L412.70,58.61 L412.70,58.70 L413.30,58.70 L413.30,58.90 L413.90,58.90 L413.90,59.10 L414.50,59.10 L414.50,59.30 L415.10,59.30 L415.10,59.50 L415.70,59.50 L415.70,59.70 L416.30,59.70 L416.30,59.90 L416.90,59.90 L416.90,60.10 L417.50,60.10 L417.50,60.30 L418.12,60.30 L418.12,60.60 L418.75,60.60 L418.75,60.90 L419.38,60.90 L419.38,61.20 L420.00,61.20 L420.00,61.50 L456.80,61.50 L457.00,64.40 L478.20,64.40 L478.40,67.30 L505.40,67.30" fill="none" stroke="#a8405a" stroke-width="1.05" stroke-dasharray="3.0 3.2"/>
</svg>
<div class="frame"></div><div style="position:absolute;left:518px;top:1px;width:1px;height:277px;background:#e4e4e4"></div><div style="position:absolute;left:1px;top:277px;width:517px;height:1px;background:#e4e4e4"></div>
</body></html>
